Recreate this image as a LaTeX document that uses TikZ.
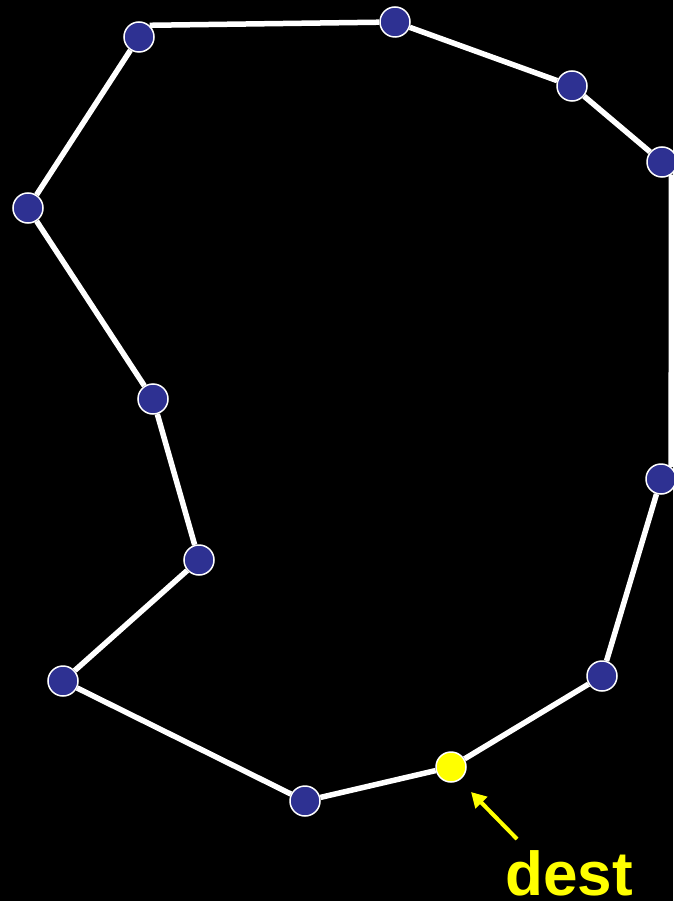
\documentclass[tikz,border=0pt]{standalone}
\usepackage{fontspec}
\setmainfont{Liberation Sans}
\usetikzlibrary{arrows.meta}
\definecolor{navy}{HTML}{2E3192}
\definecolor{hilite}{HTML}{FFFF00}

\begin{document}
\begin{tikzpicture}[x=1pt,y=-1pt,
  hop/.style={circle,draw=white,line width=1.5pt,fill=navy,minimum size=30pt,inner sep=0pt},
  target/.style={hop,fill=hilite},
  link/.style={white,line width=5.5pt},
  ptr/.style={-{Triangle[length=15pt,width=16pt]},hilite,line width=4pt}]
\useasboundingbox (0,0) rectangle (673,901);
\fill[black] (0,0) rectangle (673,901);
% hops
\node[hop] (n1) at (139,37) {};
\node[hop] (n2) at (395,22) {};
\node[hop] (n3) at (572,86) {};
\node[hop] (n4) at (662,162) {};
\node[hop] (n5) at (661,479) {};
\node[hop] (n6) at (602,676) {};
\node[target] (n7) at (451,767) {};
\node[hop] (n8) at (305,801) {};
\node[hop] (n9) at (63,681) {};
\node[hop] (n10) at (199,560) {};
\node[hop] (n11) at (153,399) {};
\node[hop] (n12) at (28,208) {};
% links of the ring
\draw[link] (n1.48) -- (n2);
\draw[link] (n2) -- (n3) -- (n4);
\draw[link] (n4.-53) -- (n5.50);
\draw[link] (n5) -- (n6) -- (n7) -- (n8) -- (n9) -- (n10) -- (n11) -- (n12) -- (n1);
\node[anchor=base,font=\fontsize{62}{62}\selectfont\bfseries,text=hilite] (dest) at (569,895) {dest};
\coordinate (tail) at (517,839);
\coordinate (tip) at (471,792);
\draw[ptr] (tail) -- (tip);
\end{tikzpicture}
\end{document}
